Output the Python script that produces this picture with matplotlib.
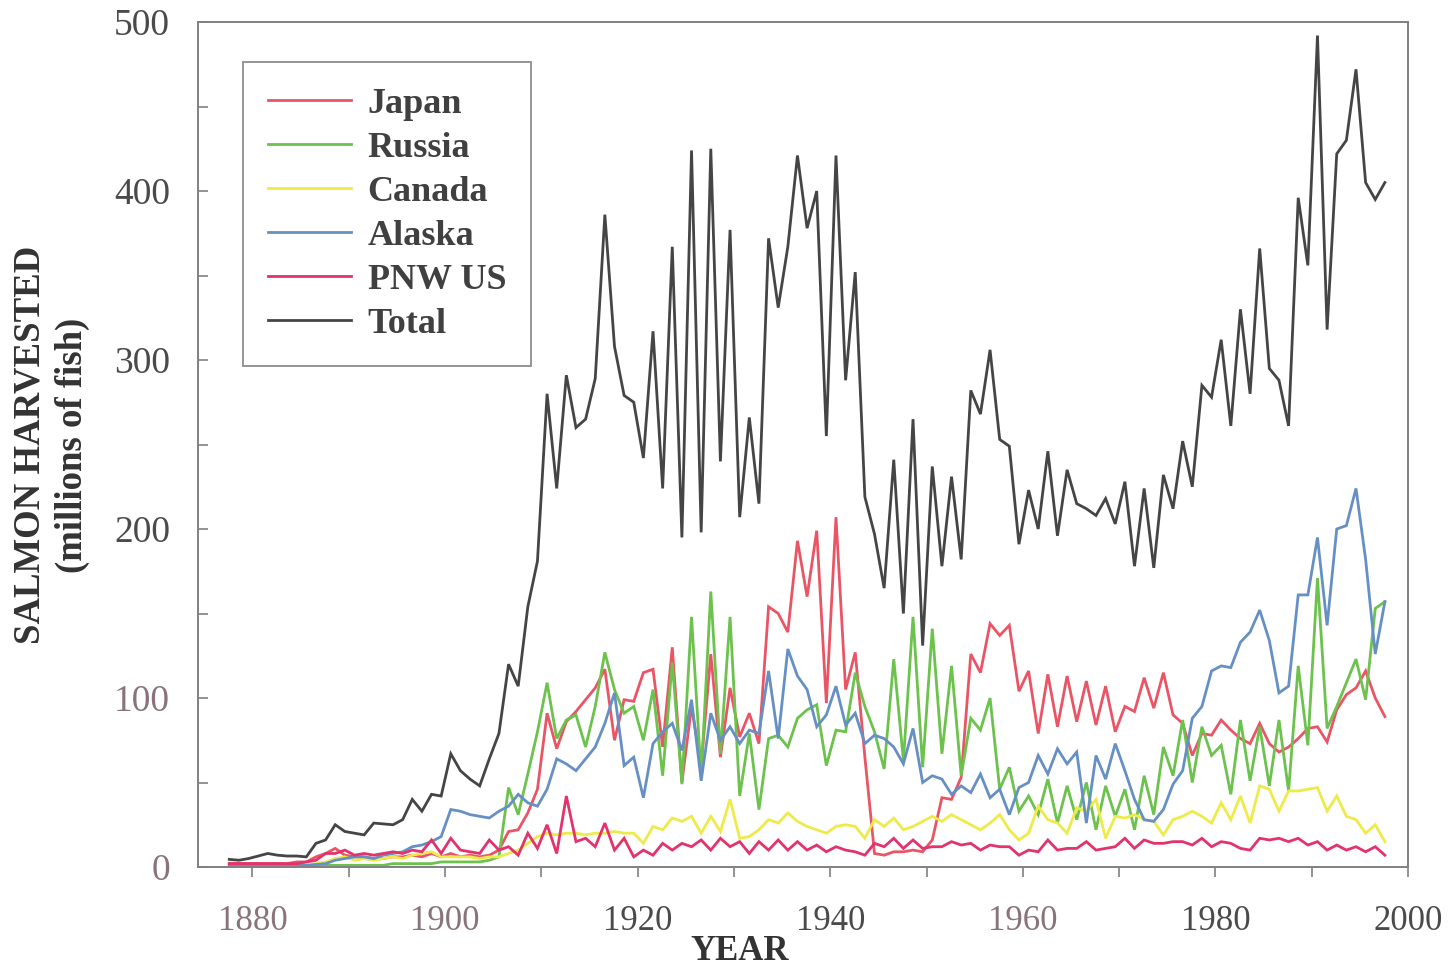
import numpy as np
import matplotlib
matplotlib.use("Agg")
import matplotlib.pyplot as plt

# Annual salmon catch, millions of fish, seasons 1877-1997
years = np.arange(1877, 1998)

japan = [2, 2, 2,
         2, 2, 2, 2, 3, 3, 6, 8, 11, 7,
         6, 6, 5, 5, 6, 6, 7, 6, 8, 6,
         8, 6, 7, 6, 7, 10, 21, 22, 32, 46,
         91, 70, 86, 92, 99, 106, 117, 75, 99, 98,
         115, 117, 71, 130, 50, 95, 60, 126, 65, 106,
         77, 91, 73, 154, 150, 139, 193, 160, 199, 97,
         207, 105, 127, 65, 8, 7, 9, 9, 10, 9,
         16, 41, 40, 53, 126, 115, 144, 137, 143, 104,
         116, 79, 114, 83, 113, 86, 110, 84, 107, 80,
         95, 92, 112, 94, 115, 90, 85, 66, 79, 78,
         87, 81, 76, 73, 85, 73, 68, 71, 76, 82,
         83, 74, 93, 102, 106, 116, 100, 89]

russia = [1, 1, 1,
          1, 1, 1, 1, 1, 1, 1, 1, 1, 1,
          1, 1, 1, 1, 2, 2, 2, 2, 2, 3,
          3, 3, 3, 3, 4, 6, 47, 31, 55, 80,
          109, 76, 87, 90, 71, 95, 127, 105, 91, 95,
          75, 105, 54, 121, 49, 148, 54, 163, 67, 148,
          42, 79, 34, 76, 78, 71, 88, 93, 96, 60,
          81, 80, 115, 95, 80, 58, 123, 63, 148, 59,
          141, 67, 119, 54, 88, 81, 100, 46, 59, 33,
          42, 31, 52, 26, 48, 28, 50, 22, 48, 30,
          46, 22, 54, 31, 71, 54, 87, 50, 83, 66,
          72, 43, 87, 51, 83, 48, 87, 45, 119, 72,
          171, 82, 95, 109, 123, 99, 153, 157]

canada = [1, 1, 1,
          1, 1, 1, 1, 1, 1, 2, 3, 5, 6,
          4, 5, 4, 5, 6, 5, 7, 8, 9, 6,
          6, 6, 6, 5, 6, 6, 8, 10, 14, 18,
          20, 19, 20, 20, 19, 20, 20, 21, 20, 20,
          14, 24, 22, 29, 27, 30, 20, 30, 21, 40,
          17, 18, 22, 28, 26, 32, 27, 24, 22, 20,
          24, 25, 24, 17, 28, 24, 29, 22, 24, 27,
          30, 27, 31, 28, 25, 22, 26, 31, 22, 16,
          20, 36, 28, 26, 20, 35, 33, 40, 17, 30,
          29, 31, 28, 27, 19, 28, 30, 33, 30, 26,
          38, 28, 42, 26, 48, 46, 33, 45, 45, 46,
          47, 33, 42, 30, 28, 20, 25, 15]

alaska = [0.5, 0.5, 0.5,
          0.5, 0.5, 1, 1, 1, 1, 1.5, 2, 4, 5,
          6, 6, 5, 7, 8, 9, 12, 13, 15, 18,
          34, 33, 31, 30, 29, 33, 36, 43, 38, 36,
          46, 64, 61, 57, 64, 71, 85, 103, 60, 65,
          41, 73, 80, 85, 69, 99, 51, 91, 75, 83,
          73, 81, 79, 116, 76, 129, 113, 105, 83, 90,
          107, 84, 91, 73, 78, 76, 71, 61, 82, 50,
          54, 52, 43, 48, 44, 55, 41, 46, 31, 47,
          50, 66, 55, 70, 61, 68, 26, 66, 52, 73,
          57, 40, 28, 27, 34, 49, 57, 88, 95, 116,
          119, 118, 133, 139, 152, 134, 103, 107, 161, 161,
          195, 143, 200, 202, 224, 182, 126, 157]

pnw_us = [2, 2, 2,
          2, 2, 2, 2, 2, 3, 4, 8, 8, 10,
          7, 8, 7, 8, 9, 8, 10, 9, 16, 8,
          17, 10, 9, 8, 16, 10, 12, 7, 20, 11,
          25, 8, 42, 15, 17, 12, 26, 10, 17, 6,
          10, 7, 14, 10, 14, 12, 16, 10, 17, 12,
          15, 8, 15, 10, 16, 10, 15, 10, 13, 9,
          12, 10, 9, 7, 14, 12, 17, 11, 16, 11,
          12, 12, 15, 13, 14, 10, 13, 12, 12, 7,
          10, 9, 16, 10, 11, 11, 15, 10, 11, 12,
          17, 11, 16, 14, 14, 15, 15, 13, 17, 12,
          15, 14, 11, 10, 17, 16, 17, 15, 17, 13,
          15, 10, 13, 10, 12, 9, 12, 7]

total = [4.5, 4, 5,
         6.5, 8, 7, 6.5, 6.5, 6, 14, 16, 25, 21,
         20, 19, 26, 25.5, 25, 28, 40, 33, 43, 42,
         67, 57, 52, 48, 64, 79, 120, 107, 154, 181,
         280, 224, 291, 260, 265, 289, 386, 308, 279, 275,
         242, 317, 224, 367, 195, 424, 198, 425, 240, 377,
         207, 266, 215, 372, 331, 367, 421, 378, 400, 255,
         421, 288, 352, 219, 197, 165, 241, 150, 265, 131,
         237, 178, 231, 182, 282, 268, 306, 253, 249, 191,
         223, 200, 246, 196, 235, 215, 212, 208, 218, 203,
         228, 178, 224, 177, 232, 212, 252, 225, 285, 278,
         312, 261, 330, 280, 366, 295, 288, 261, 396, 356,
         492, 318, 422, 430, 472, 405, 395, 405]

labels = ["Japan", "Russia", "Canada", "Alaska", "PNW US", "Total"]
colors = ["#ea5566", "#6cc24c", "#eeea4a", "#6690c4", "#e2336c", "#454545"]

plt.rcParams["font.family"] = ["Liberation Serif", "DejaVu Serif"]

W, H = 1453, 969
fig = plt.figure(figsize=(W / 100, H / 100), dpi=100)
ax = fig.add_axes([198 / W, 1 - 867 / H, (1408 - 198) / W, (867 - 22) / H])

# each season's catch is drawn at mid-year
xpos = years + 0.6
for name, vals, col in zip(labels, [japan, russia, canada, alaska, pnw_us, total], colors):
    ax.plot(xpos, vals, color=col, lw=2.0, label=name, solid_joinstyle="miter")

ax.set_xlim(1874.35, 2000)
ax.set_ylim(0, 500)
ax.set_xticks(range(1880, 2001, 20))
ax.set_xticks(range(1890, 2000, 20), minor=True)
ax.set_yticks(range(0, 501, 100))
ax.set_yticks(range(50, 500, 100), minor=True)

for sp in ax.spines.values():
    sp.set_color("#808080")
    sp.set_linewidth(1.4)

ax.tick_params(axis="x", which="both", direction="out", length=7, width=1.2,
               color="#808080", pad=20, labelsize=25, labelcolor="#4a4a4a")
ax.tick_params(axis="y", which="both", direction="in", length=7, width=1.2,
               color="#808080", pad=20, labelsize=27, labelcolor="#4a4a4a")

# scanned-print tint on some of the tick numbers
for lab in ax.get_xticklabels():
    if lab.get_text() in ("1880", "1900", "1960"):
        lab.set_color("#8a727c")
for lab in ax.get_yticklabels():
    if lab.get_text() in ("0", "100"):
        lab.set_color("#8a727c")

leg = ax.legend(loc="upper left", bbox_to_anchor=((243 - 198) / 1210, (867 - 62) / 845),
                borderaxespad=0, frameon=True, fancybox=False, edgecolor="#7a7a7a",
                handlelength=2.3, handletextpad=0.45, borderpad=0.7, labelspacing=0.3,
                prop={"size": 26, "weight": "bold"})
leg.get_frame().set_linewidth(1.4)
for t in leg.get_texts():
    t.set_color("#404040")
for h in leg.get_lines():
    h.set_linewidth(2.0)

fig.text(30 / W, 1 - 445 / H, "SALMON HARVESTED", rotation=90, ha="center", va="center",
         fontsize=26.5, fontweight="bold", color="#333333")
fig.text(72 / W, 1 - 445 / H, "(millions of fish)", rotation=90, ha="center", va="center",
         fontsize=26.5, fontweight="bold", color="#333333")
fig.text(740 / W, 1 - 952 / H, "YEAR", ha="center", va="center",
         fontsize=25, fontweight="bold", color="#333333")

fig.savefig("out.png", dpi=100, facecolor="white")
